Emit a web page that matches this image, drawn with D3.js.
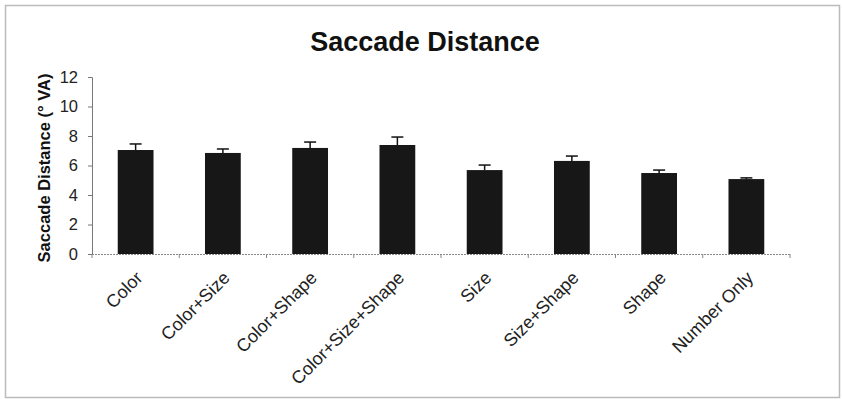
<!DOCTYPE html>
<html>
<head>
<meta charset="utf-8">
<script src="https://cdn.jsdelivr.net/npm/d3@7"></script>
<style>
  body { margin: 0; background: #fff; }
  svg { font-family: Arial, "Liberation Sans", sans-serif; }
</style>
</head>
<body>
<svg width="842" height="399"></svg>
<script>
// values
const categories = ['Color', 'Color+Size', 'Color+Shape', 'Color+Size+Shape',
                    'Size', 'Size+Shape', 'Shape', 'Number Only'];
const means = [7.05, 6.85, 7.19, 7.39, 5.69, 6.31, 5.49, 5.08];
const errors = [0.41, 0.27, 0.40, 0.54, 0.34, 0.33, 0.20, 0.08];
const yTicks = [0, 2, 4, 6, 8, 10, 12];

const svg = d3.select('svg');

// outer frame
svg.append('rect')
    .attr('x', 5.5).attr('y', 5.5)
    .attr('width', 834).attr('height', 392)
    .attr('fill', 'none')
    .attr('stroke', '#bbb')
    .attr('stroke-width', 1.5);

const x = d3.scaleBand()
    .domain(categories)
    .range([92, 790])
    .paddingInner(0.59)
    .paddingOuter(0.295);

const y = d3.scaleLinear()
    .domain([0, 12])
    .range([254, 77]);

// title
svg.append('text')
    .attr('x', 425).attr('y', 51)
    .attr('text-anchor', 'middle')
    .attr('font-size', 27)
    .attr('font-weight', 'bold')
    .attr('fill', '#111')
    .text('Saccade Distance');

// y axis label
svg.append('text')
    .attr('transform', 'translate(50,168) rotate(-90)')
    .attr('text-anchor', 'middle')
    .attr('font-size', 16.5)
    .attr('font-weight', 'bold')
    .attr('fill', '#111')
    .text('Saccade Distance (° VA)');

// y axis
const yAxis = svg.append('g')
    .attr('transform', 'translate(92,0)')
    .call(d3.axisLeft(y).tickValues(yTicks).tickSize(4).tickPadding(10));
yAxis.select('.domain').attr('stroke', '#777');
yAxis.selectAll('.tick line').attr('stroke', '#777');
yAxis.selectAll('.tick text')
    .attr('font-size', 16.5)
    .attr('fill', '#222')
    .attr('font-family', 'Arial, "Liberation Sans", sans-serif');

// bars
svg.append('g').selectAll('rect')
    .data(categories)
    .join('rect')
    .attr('x', d => x(d))
    .attr('y', (d, i) => y(means[i]))
    .attr('width', x.bandwidth())
    .attr('height', (d, i) => y(0) - y(means[i]))
    .attr('fill', '#171717');

// error bars (upper only)
const err = svg.append('g')
    .attr('stroke', '#111')
    .attr('stroke-width', 1.5);
categories.forEach((c, i) => {
    const cx = x(c) + x.bandwidth() / 2;
    err.append('line')
        .attr('x1', cx).attr('x2', cx)
        .attr('y1', y(means[i])).attr('y2', y(means[i] + errors[i]));
    err.append('line')
        .attr('x1', cx - 6).attr('x2', cx + 6)
        .attr('y1', y(means[i] + errors[i])).attr('y2', y(means[i] + errors[i]));
});

// x axis: dotted baseline with ticks between categories
svg.append('line')
    .attr('x1', 92).attr('x2', 790)
    .attr('y1', 254.5).attr('y2', 254.5)
    .attr('stroke', '#888')
    .attr('stroke-width', 1.2)
    .attr('stroke-dasharray', '2,1');
const step = x.step();
svg.append('g').selectAll('line')
    .data(d3.range(categories.length + 1))
    .join('line')
    .attr('x1', i => 92 + i * step).attr('x2', i => 92 + i * step)
    .attr('y1', 254).attr('y2', 258)
    .attr('stroke', '#888');

// category labels
svg.append('g').selectAll('text')
    .data(categories)
    .join('text')
    .attr('transform', d => `translate(${x(d) + x.bandwidth() / 2 + 8},${279}) rotate(-45)`)
    .attr('text-anchor', 'end')
    .attr('font-size', 18)
    .attr('fill', '#222')
    .text(d => d);
</script>
</body>
</html>
